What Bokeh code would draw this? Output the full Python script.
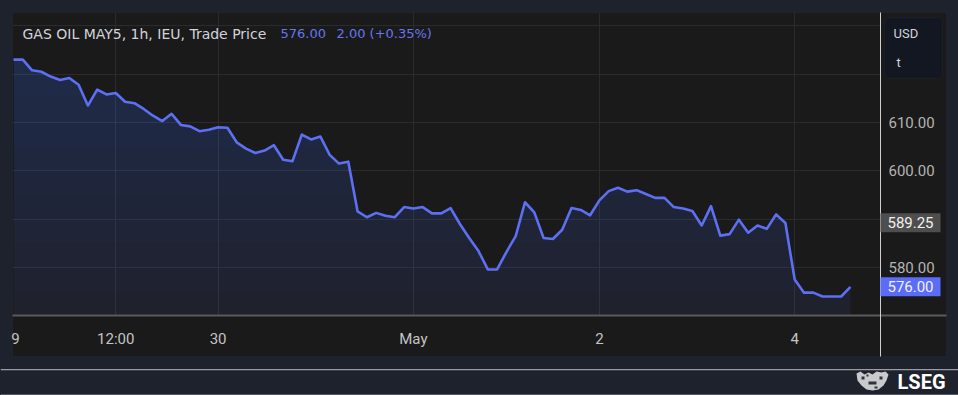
import numpy as np
from bokeh.plotting import figure
from bokeh.models import (FixedTicker, BoxAnnotation, Label, PolyAnnotation, Range1d,
                          NumeralTickFormatter, GlobalInlineStyleSheet, Grid)
from bokeh.embed import file_html
from bokeh.resources import INLINE

# ---------------- data ----------------
PRICES = [623.0, 623.0, 620.8, 620.5, 619.5, 618.8, 619.2, 617.8, 613.5, 616.8,
          615.8, 616.1, 614.3, 614.0, 612.8, 611.4, 610.3, 611.8, 609.5, 609.2,
          608.2, 608.5, 609.0, 608.9, 605.9, 604.6, 603.7, 604.2, 605.3, 602.3,
          602.0, 607.5, 606.5, 607.1, 603.3, 601.5, 601.9, 591.6, 590.4, 591.3,
          590.7, 590.4, 592.5, 592.2, 592.5, 591.2, 591.2, 592.3, 589.0, 586.1,
          583.4, 579.6, 579.6, 583.2, 586.5, 593.5, 591.4, 586.1, 585.9, 587.8,
          592.3, 591.9, 590.8, 593.9, 595.8, 596.5, 595.7, 596.0, 595.2, 594.4,
          594.4, 592.5, 592.2, 591.7, 588.7, 592.7, 586.6, 586.9, 589.9, 587.2,
          588.7, 588.0, 591.0, 589.2, 577.5, 574.8, 574.8, 574.0, 574.0, 574.0,
          576.0]
X_TICKS = [0.2, 11, 22, 43, 63, 84]
X_LABELS = ["9", "12:00", "30", "May", "2", "4"]
X_GRID = [11, 22, 43, 63, 84]
Y_TICKS = [580, 600, 610]
Y_GRID = [580, 590, 600, 610, 620, 630]
BASE = 570
LAST_PRICE = 576.00
REF_PRICE = 589.25
CHANGE = 2.00
CHANGE_PCT = 0.35
TITLE = "GAS OIL MAY5, 1h, IEU, Trade Price"
CURRENCY = "USD"
UNIT = "t"
BRAND = "LSEG"
FILL_LEVELS = [575, 580, 585, 590, 595, 600, 605, 610, 615, 620, 625]

# ---------------- styling / geometry ----------------
NAVY = "#1e222d"
PANEL = "#1a1a1a"
GRID = "#2b2b2b"
LINE = "#5d6ff2"
BLUE_TXT = "#6576f0"
W, H = 958, 395
PPX_X = 9.3          # px per bar
PPX_Y = 145.0 / 30   # px per price unit
X0 = -13 / PPX_X
X1 = X0 + W / PPX_X
Y1 = 610 + 122 / PPX_Y
Y0 = Y1 - H / PPX_Y


def dx(px):
    return X0 + px / PPX_X


def dy(py):
    return Y1 - py / PPX_Y


PX_Y = 1 / PPX_Y

p = figure(width=W, height=H, x_range=Range1d(X0, X1), y_range=Range1d(Y0, Y1),
           output_backend="svg", toolbar_location=None, y_axis_location="right",
           min_border_left=0, min_border_right=0, min_border_top=0, min_border_bottom=0,
           background_fill_color=NAVY, border_fill_color=NAVY, outline_line_color=None)
p.stylesheets = [GlobalInlineStyleSheet(
    css="html,body{margin:0;padding:0;background:#1e222d;overflow:hidden}")]

# panel background
p.add_layout(BoxAnnotation(left=dx(12), right=dx(946), top=dy(12), bottom=dy(356),
                           fill_color=PANEL, fill_alpha=1, line_color="#2e3240",
                           line_width=1, level="image"))

xs = np.arange(len(PRICES))
ys = np.array(PRICES)
p.varea(x=xs, y1=BASE, y2=ys, fill_color=LINE, fill_alpha=0.09)
for lvl in FILL_LEVELS:
    p.varea(x=xs, y1=lvl, y2=np.maximum(ys, lvl), fill_color=LINE, fill_alpha=0.016)
p.line(xs, ys, line_color=LINE, line_width=2.6, line_join="round")

# grids
p.xgrid.ticker = FixedTicker(ticks=X_GRID)
p.ygrid.ticker = FixedTicker(ticks=Y_GRID)
p.grid.grid_line_color = GRID
p.grid.grid_line_width = 1
if "cross_bounds" in Grid.properties():
    p.xgrid.cross_bounds = (BASE, dy(12))
    p.ygrid.cross_bounds = (dx(12), dx(880))
else:
    p.grid.visible = False
    p.segment(x0=X_GRID, y0=BASE, x1=X_GRID, y1=dy(12), line_color=GRID, line_width=1,
              level="underlay")
    p.segment(x0=dx(12), y0=Y_GRID, x1=dx(880), y1=Y_GRID, line_color=GRID, line_width=1,
              level="underlay")

AX_FONT = "Roboto"
# x axis (inside the frame, on the price base line)
p.xaxis.fixed_location = BASE
p.xaxis.bounds = (dx(12), dx(946))
p.xaxis.ticker = FixedTicker(ticks=X_TICKS)
p.xaxis.major_label_overrides = {t: l for t, l in zip(X_TICKS, X_LABELS)}
p.xaxis.axis_line_color = "#5a5a5a"
p.xaxis.axis_line_width = 2
p.xaxis.major_tick_line_color = None
p.xaxis.minor_tick_line_color = None
p.xaxis.major_tick_out = 0
p.xaxis.major_tick_in = 0
p.xaxis.major_label_text_color = "#c4c4c4"
p.xaxis.major_label_text_font = AX_FONT
p.xaxis.major_label_text_font_size = "15px"
p.xaxis.major_label_standoff = 14

# y axis
p.yaxis.fixed_location = dx(880)
p.yaxis.bounds = (dy(356), dy(12))
p.yaxis.ticker = FixedTicker(ticks=Y_TICKS)
p.yaxis.formatter = NumeralTickFormatter(format="0.00")
p.yaxis.axis_line_color = "#cfcfcf"
p.yaxis.axis_line_width = 1
p.yaxis.major_tick_line_color = None
p.yaxis.minor_tick_line_color = None
p.yaxis.major_tick_out = 0
p.yaxis.major_tick_in = 0
p.yaxis.major_label_text_color = "#b4b4b4"
p.yaxis.major_label_text_font = AX_FONT
p.yaxis.major_label_text_font_size = "15px"
p.yaxis.major_label_standoff = 8

# title
p.add_layout(Label(x=dx(22), y=dy(33), text=TITLE, text_color="#d1d4dc",
                   text_font="DejaVu Sans", text_font_size="14px", text_baseline="middle"))
p.add_layout(Label(x=dx(280), y=dy(33), text=f"{LAST_PRICE:.2f}", text_color=BLUE_TXT,
                   text_font="DejaVu Sans", text_font_size="13px", text_baseline="middle"))
p.add_layout(Label(x=dx(336), y=dy(33), text=f"{CHANGE:.2f} (+{CHANGE_PCT:.2f}%)",
                   text_color=BLUE_TXT, text_font="DejaVu Sans", text_font_size="13px",
                   text_baseline="middle"))

# currency box
p.add_layout(BoxAnnotation(left=dx(884), right=dx(942), top=dy(17), bottom=dy(78),
                           fill_color="#131722", fill_alpha=1, line_color="#2e3240",
                           line_width=1, border_radius=5))
p.add_layout(Label(x=dx(893), y=dy(33), text=CURRENCY, text_color="#d1d4dc",
                   text_font=AX_FONT, text_font_size="13px", text_baseline="middle"))
p.add_layout(Label(x=dx(896), y=dy(62), text=UNIT, text_color="#d1d4dc",
                   text_font=AX_FONT, text_font_size="13px", text_baseline="middle"))

# price badges
for price, bg in [(REF_PRICE, "#4e4e4e"), (LAST_PRICE, "#5b6cf8")]:
    p.add_layout(BoxAnnotation(left=dx(880), right=dx(940), top=price + 9.5 * PX_Y,
                               bottom=price - 9.5 * PX_Y, fill_color=bg, fill_alpha=1,
                               line_color=None))
    p.add_layout(Label(x=dx(910), y=price, text=f"{price:.2f}", text_color="#f2f2f2",
                       text_font=AX_FONT, text_font_size="15px", text_align="center",
                       text_baseline="middle"))

# footer
p.add_layout(BoxAnnotation(left=dx(0), right=dx(958), top=dy(368.5), bottom=dy(369.7),
                           fill_color="#9a9ca3", fill_alpha=1, line_color=None))
p.add_layout(BoxAnnotation(left=dx(0), right=dx(958), top=dy(394), bottom=dy(395),
                           fill_color="#8e9096", fill_alpha=1, line_color=None))
p.add_layout(Label(x=dx(897), y=dy(381), text=BRAND, text_color="#ffffff",
                   text_font="Roboto", text_font_size="20px", text_font_style="bold",
                   text_baseline="middle"))
crest_px = [(856, 373), (860, 371), (864, 374), (868, 372), (872, 374), (876, 371),
            (881, 372), (885, 371), (888, 374), (886, 380), (883, 385), (878, 389),
            (872, 390), (866, 389), (861, 385), (857, 380)]
p.add_layout(PolyAnnotation(xs=[dx(a) for a, b in crest_px], ys=[dy(b) for a, b in crest_px],
                            fill_color="#e8e8e8", fill_alpha=0.85, line_color=None))
for l, r, t, b in [(861, 864, 376, 379), (879, 882, 376, 379), (868, 876, 381, 384),
                   (866, 868, 374, 376), (874, 877, 386, 388)]:
    p.add_layout(BoxAnnotation(left=dx(l), right=dx(r), top=dy(t), bottom=dy(b),
                               fill_color=NAVY, fill_alpha=0.9, line_color=None))

open("out.html", "w").write(file_html(p, INLINE))
